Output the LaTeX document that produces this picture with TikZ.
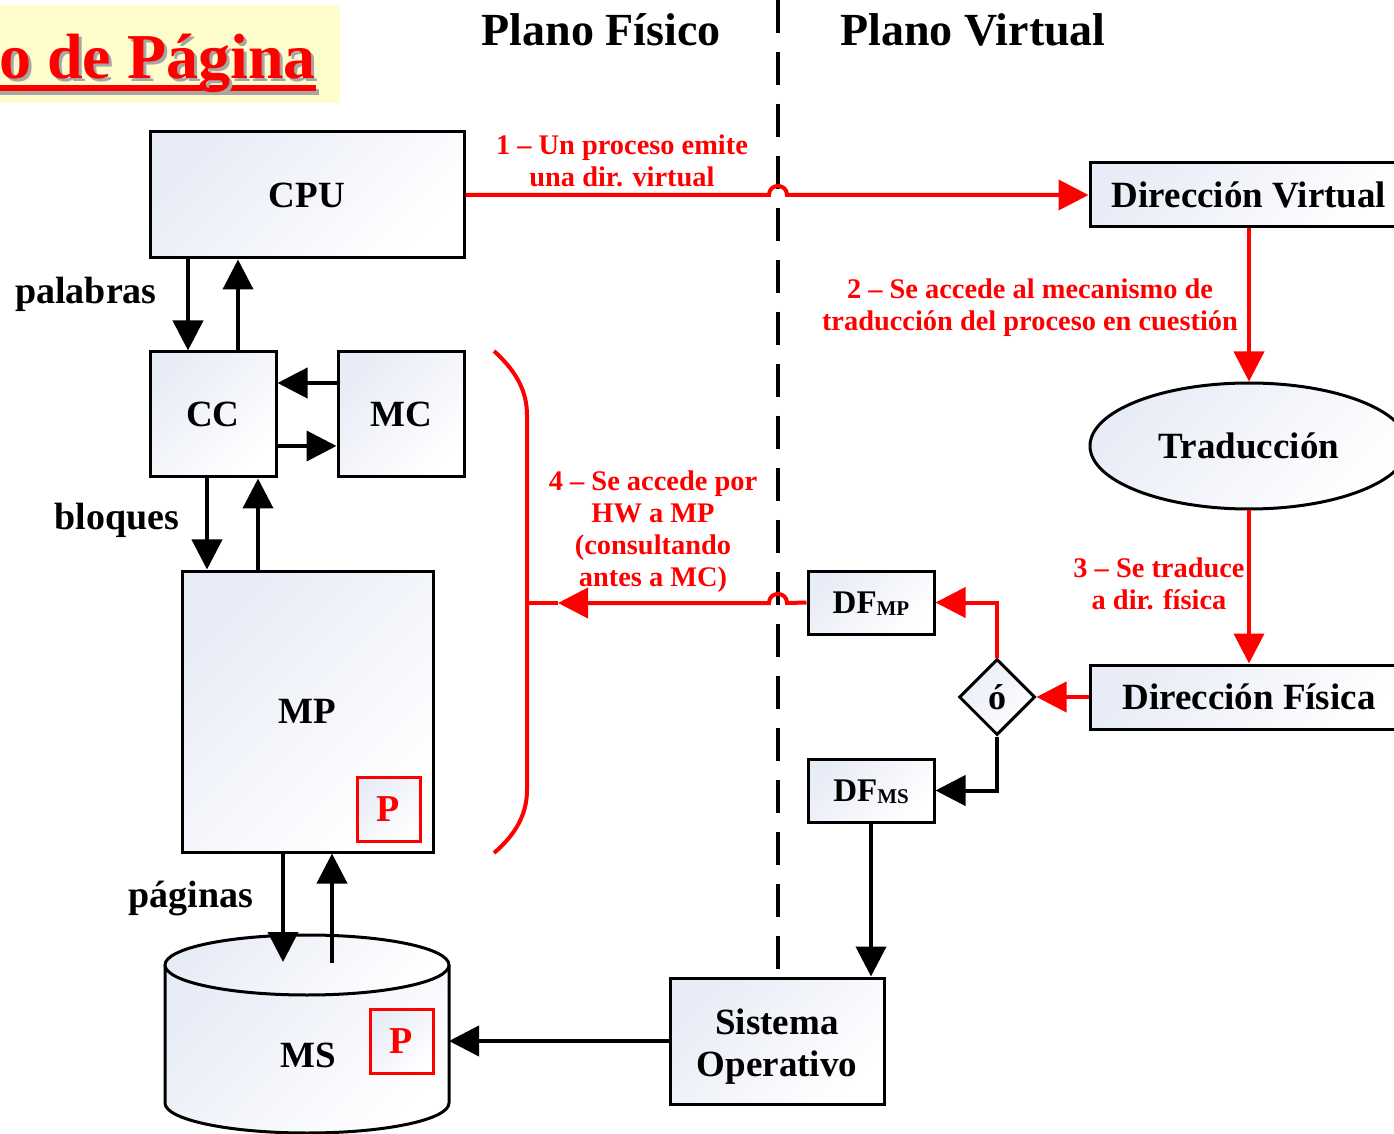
\documentclass[tikz,border=0pt]{standalone}
\usepackage{fontspec}
\setmainfont{Liberation Serif}
\usetikzlibrary{arrows.meta,shapes.geometric}
\definecolor{nodeblue}{HTML}{E8ECF6}
\definecolor{titlebg}{HTML}{FFFDCC}
\begin{document}
\begin{tikzpicture}[x=0.5pt,y=-0.5pt,
  boxbase/.style={draw=black,line width=1.5pt,top color=nodeblue,bottom color=white,shading angle=45,inner sep=0pt,font=\fontsize{18.5}{21}\selectfont\bfseries},
  box/.style={boxbase,text height=12.2pt,text depth=0pt},
  pbox/.style={draw=red,line width=1.5pt,top color=nodeblue,bottom color=white,shading angle=45,inner sep=0pt,minimum width=31.5pt,minimum height=32pt,text=red,font=\fontsize{19}{21}\selectfont\bfseries,text height=12.6pt,text depth=0pt},
  lbl/.style={inner sep=0pt,font=\fontsize{19}{21}\selectfont\bfseries},
  rlbl/.style={inner sep=0pt,text=red,align=center,font=\fontsize{14.2}{16}\selectfont\bfseries},
  hdr/.style={inner sep=0pt,font=\fontsize{23}{26}\selectfont\bfseries},
  arr/.style={line width=2pt,-{Triangle[length=15pt,width=15pt]}},
  redline/.style={draw=red,line width=2pt}
]
\path[use as bounding box] (0,0) rectangle (1394,1134);
\clip (0,0) rectangle (1394,1134);

% title
\fill[titlebg] (0,5) rectangle (340,103);
\fill[black!35] (0,89) rectangle (319,95);
\fill[red] (0,85) rectangle (316,91);
\node[anchor=base east,inner sep=0pt,text=red,font=\fontsize{32}{36}\selectfont\bfseries] (title) at (316,79) {\rlap{\kern1.5pt\raisebox{-1.5pt}{\color{black!35}o de Página}}o de Página};

% headers
\node[hdr,anchor=base] (h1) at (601,46) {Plano Físico};
\node[hdr,anchor=base] (h2) at (973,46) {Plano Virtual};

% physical side nodes
\node[box,minimum width=157pt,minimum height=63pt] (CPU) at (307,195) {CPU};
\node[box,minimum width=63pt,minimum height=62.5pt] (CC) at (213,414.5) {CC};
\node[box,minimum width=63pt,minimum height=62.5pt] (MC) at (401,414.5) {MC};
\node[box,minimum width=125.5pt,minimum height=140.5pt] (MP) at (307.5,711.5) {MP};
\node[pbox] (PMP) at (388.5,809) {P};

% MS cylinder
\path[top color=nodeblue,bottom color=white,shading angle=45] (165,965) -- (165,1103) .. controls (165,1119.6) and (228.6,1133) .. (307,1133) .. controls (385.4,1133) and (449,1119.6) .. (449,1103) -- (449,965) -- cycle;
\draw[line width=1.5pt] (165,965) -- (165,1103) .. controls (165,1119.6) and (228.6,1133) .. (307,1133) .. controls (385.4,1133) and (449,1119.6) .. (449,1103) -- (449,965);
\draw[line width=1.5pt,top color=nodeblue,bottom color=white,shading angle=45] (307,965) ellipse [x radius=71pt,y radius=15pt];
\node[lbl,font=\fontsize{18.5}{21}\selectfont\bfseries] (MS) at (308,1055) {MS};
\node[pbox] (PMS) at (401.5,1041) {P};
\coordinate (msR) at (449,1041);

% labels
\node[lbl,anchor=base] (lpal) at (86,304) {palabras};
\node[lbl,anchor=base] (lblo) at (117,530) {bloques};
\node[lbl,anchor=base] (lpag) at (191,907) {páginas};

% virtual side nodes
\node[boxbase,minimum width=107pt,minimum height=63pt] (SO) at (777,1041) {\raisebox{0pt}[\dimexpr\height+6pt\relax]{\begin{tabular}{@{}c@{}}Sistema\\Operativo\end{tabular}}};
\node[boxbase,minimum width=63pt,minimum height=31.5pt,font=\fontsize{16.5}{18}\selectfont\bfseries,text height=10.9pt,text depth=0pt] (DFMP) at (871,602.5) {DF{\fontsize{10.5}{12}\selectfont\raisebox{-1.2pt}{MP}}};
\node[boxbase,minimum width=63pt,minimum height=31.5pt,font=\fontsize{16.5}{18}\selectfont\bfseries,text height=10.9pt,text depth=0pt] (DFMS) at (871,790.5) {DF{\fontsize{10.5}{12}\selectfont\raisebox{-1.2pt}{MS}}};
\node[boxbase,diamond,minimum width=38pt,minimum height=38pt,font=\fontsize{18}{20}\selectfont\bfseries] (D) at (997,697) {ó};
\node[box,minimum width=159pt,minimum height=32pt] (DFis) at (1249,697) {Dirección Física};
\node[box,minimum width=159pt,minimum height=32pt] (DV) at (1249,195) {Dirección Virtual};
\node[box,ellipse,minimum width=159pt,minimum height=63pt] (TR) at (1249,446) {Traducción};

% red labels
\node[rlbl] (t1) at (622,161) {1 – Un proceso emite\\una dir. virtual};
\node[rlbl] (t2) at (1030,308) {2 – Se accede al mecanismo de\\traducción del proceso en cuestión};
\node[rlbl] (t3) at (1159,584) {3 – Se traduce\\a dir. física};
\node[rlbl] (t4) at (653,532) {4 – Se accede por\\HW a MP\\(consultando\\antes a MC)};

% dashed divider
\coordinate (vtop) at (778,0);
\draw[line width=2pt,dash pattern=on 16.5pt off 9.5pt] (vtop) -- (vtop |- SO.north);

% helper coordinates
\coordinate (xa) at (188,0);
\coordinate (xb) at (238,0);
\coordinate (xc) at (207,0);
\coordinate (xd) at (258,0);
\coordinate (xe) at (283,0);
\coordinate (xf) at (332,0);
\coordinate (ya) at (0,383);
\coordinate (yb) at (0,446);
\coordinate (mstip) at (283,962);
\coordinate (msup) at (332,963);
\coordinate (b4) at (558,603);
\coordinate (bk) at (527,603);

% black arrows
\draw[arr] (xa |- CPU.south) -- (xa |- CC.north);
\draw[arr] (xb |- CC.north) -- (xb |- CPU.south);
\draw[arr] (MC.west |- ya) -- (CC.east |- ya);
\draw[arr] (CC.east |- yb) -- (MC.west |- yb);
\draw[arr] (xc |- CC.south) -- (xc |- MP.north);
\draw[arr] (xd |- MP.north) -- (xd |- CC.south);
\draw[arr] (xe |- MP.south) -- (mstip);
\draw[arr] (msup) -- (xf |- MP.south);
\draw[arr] (D.south) |- (DFMS.east);
\draw[arr] (DFMS.south) -- (DFMS.south |- SO.north);
\draw[arr] (SO.west) -- (msR);

% red arrows
\draw[arr,red] (CPU.east) -- (769,195) .. controls (769,183) and (787,183) .. (787,195) -- (DV.west);
\draw[arr,red] (DV.south) -- (TR.north);
\draw[arr,red] (TR.south) -- (DFis.north);
\draw[arr,red] (DFis.west) -- (D.east);
\draw[arr,red] (D.north) |- (DFMP.east);
\draw[arr,red] (DFMP.west) -- (787,603) .. controls (787,591) and (769,591) .. (769,603) -- (b4);
\draw[redline] (bk) -- (b4);
\draw[redline] (494,351) .. controls (515,370) and (527,390) .. (527,415) -- (527,790) .. controls (527,815) and (515,835) .. (494,853);
\end{tikzpicture}
\end{document}
